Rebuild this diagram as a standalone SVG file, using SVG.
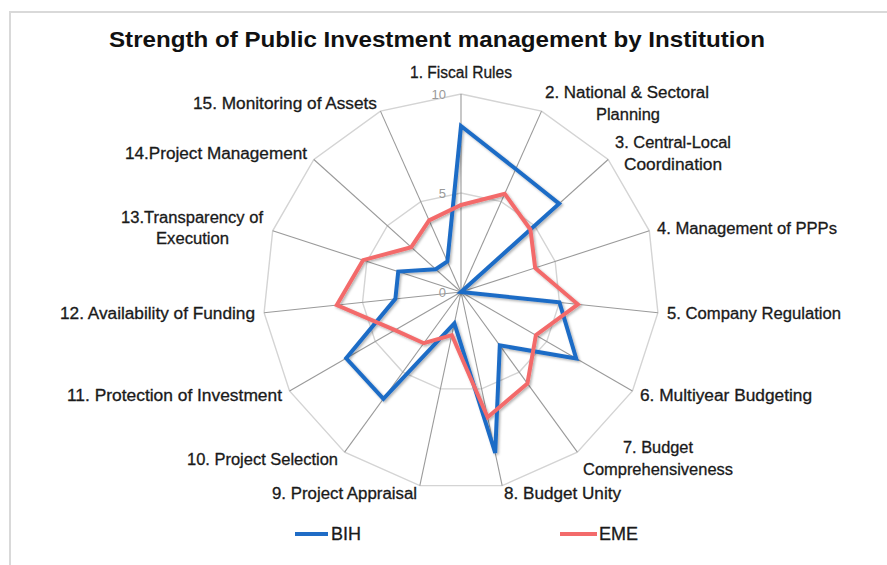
<svg xmlns="http://www.w3.org/2000/svg" width="887" height="565" viewBox="0 0 887 565">
<style>
.bg{fill:#ffffff}
.frame{fill:none;stroke:#d9d9d9;stroke-width:2}
.title{font-family:"Liberation Sans",Arial,sans-serif;font-weight:bold;font-size:22px;fill:#111}
.lbl{font-family:"Liberation Sans",Arial,sans-serif;font-size:16px;fill:#1a1a1a;stroke:#1a1a1a;stroke-width:0.3}
.tick{font-family:"Liberation Sans",Arial,sans-serif;font-size:13px;fill:#9a9a9a}
.leg{font-family:"Liberation Sans",Arial,sans-serif;font-size:18px;fill:#1a1a1a;stroke:#1a1a1a;stroke-width:0.3}
.ring{fill:none;stroke:#d4d4d4;stroke-width:1.4}
.spoke{stroke:#9a9a9a;stroke-width:1.1}
.bih{fill:none;stroke:#1f6cc6;stroke-width:4;stroke-linejoin:miter}
.eme{fill:none;stroke:#f36b6b;stroke-width:4;stroke-linejoin:miter}
</style>
<defs>
<filter id="sh" x="-10%" y="-10%" width="120%" height="120%">
<feDropShadow dx="1.5" dy="1.5" stdDeviation="1.2" flood-color="#000" flood-opacity="0.3"/>
</filter>
</defs>
<rect class="bg" x="0" y="0" width="887" height="565"/>
<rect class="frame" x="10" y="12" width="890" height="570"/>

<text class="title" x="109" y="47" textLength="656" lengthAdjust="spacingAndGlyphs">Strength of Public Investment  management by Institution</text>

<g id="grid">
<polygon class="ring" points="461,94 541.53,111.12 608.14,159.51 649.31,230.81 657.91,312.70 632.47,391 577.38,452.19 502.17,485.67 419.83,485.67 344.62,452.19 289.53,391 264.09,312.70 272.69,230.81 313.86,159.51 380.47,111.12"/>
<polygon class="ring" points="461,193 501.27,201.56 534.57,225.76 555.15,261.41 559.46,302.35 546.74,341.5 519.19,372.09 481.58,388.84 440.42,388.84 402.81,372.09 375.26,341.5 362.54,302.35 366.85,261.41 387.43,225.76 420.73,201.56"/>
<g id="spokes">
<line class="spoke" x1="461" y1="292" x2="461" y2="94"/>
<line class="spoke" x1="461" y1="292" x2="541.53" y2="111.12"/>
<line class="spoke" x1="461" y1="292" x2="608.14" y2="159.51"/>
<line class="spoke" x1="461" y1="292" x2="649.31" y2="230.81"/>
<line class="spoke" x1="461" y1="292" x2="657.91" y2="312.70"/>
<line class="spoke" x1="461" y1="292" x2="632.47" y2="391"/>
<line class="spoke" x1="461" y1="292" x2="577.38" y2="452.19"/>
<line class="spoke" x1="461" y1="292" x2="502.17" y2="485.67"/>
<line class="spoke" x1="461" y1="292" x2="419.83" y2="485.67"/>
<line class="spoke" x1="461" y1="292" x2="344.62" y2="452.19"/>
<line class="spoke" x1="461" y1="292" x2="289.53" y2="391"/>
<line class="spoke" x1="461" y1="292" x2="264.09" y2="312.70"/>
<line class="spoke" x1="461" y1="292" x2="272.69" y2="230.81"/>
<line class="spoke" x1="461" y1="292" x2="313.86" y2="159.51"/>
<line class="spoke" x1="461" y1="292" x2="380.47" y2="111.12"/>
</g>
<text class="tick" x="446" y="99" text-anchor="end">10</text>
<text class="tick" x="446" y="198" text-anchor="end">5</text>
<text class="tick" x="446" y="297" text-anchor="end">0</text>
</g>

<g id="series" filter="url(#sh)">
<polygon id="BIH" class="bih" points="461,126 515.75,169.03 559.09,203.67 461,292 559.46,302.35 576.18,358.5 499.79,345.40 495.22,453 454.35,323.30 383.41,398.79 346.16,358.3 395.36,298.90 398.23,271.60 435.73,269.25 447.37,261.40"/>
<polygon id="EME" class="eme" points="461,205 504.72,193.79 530.41,229.50 535.18,267.90 577.86,304.28 535.91,335.25 527.42,383.42 487.61,417.20 451.85,335.04 423.79,343.21 395.01,330.10 336.78,305.06 363.04,260.17 411.21,247.17 429.11,220.38"/>
</g>

<g id="labels" class="lbl">
<text x="410" y="78" textLength="102" lengthAdjust="spacingAndGlyphs">1. Fiscal Rules</text>
<text x="545" y="98" textLength="164" lengthAdjust="spacingAndGlyphs">2. National &amp; Sectoral</text>
<text x="596" y="120" textLength="64" lengthAdjust="spacingAndGlyphs">Planning</text>
<text x="615" y="148" textLength="116" lengthAdjust="spacingAndGlyphs">3. Central-Local</text>
<text x="624" y="170" textLength="98" lengthAdjust="spacingAndGlyphs">Coordination</text>
<text x="657" y="234" textLength="180" lengthAdjust="spacingAndGlyphs">4. Management of PPPs</text>
<text x="667" y="319" textLength="174" lengthAdjust="spacingAndGlyphs">5. Company Regulation</text>
<text x="640" y="401" textLength="172" lengthAdjust="spacingAndGlyphs">6. Multiyear Budgeting</text>
<text x="623" y="453" textLength="70" lengthAdjust="spacingAndGlyphs">7. Budget</text>
<text x="583" y="475" textLength="150" lengthAdjust="spacingAndGlyphs">Comprehensiveness</text>
<text x="504" y="499" textLength="117" lengthAdjust="spacingAndGlyphs">8. Budget Unity</text>
<text x="272" y="499" textLength="145" lengthAdjust="spacingAndGlyphs">9. Project Appraisal</text>
<text x="187" y="465" textLength="151" lengthAdjust="spacingAndGlyphs">10. Project Selection</text>
<text x="67" y="401" textLength="215" lengthAdjust="spacingAndGlyphs">11. Protection of Investment</text>
<text x="60" y="319" textLength="195" lengthAdjust="spacingAndGlyphs">12. Availability of Funding</text>
<text x="121" y="223" textLength="142" lengthAdjust="spacingAndGlyphs">13.Transparency of</text>
<text x="156" y="244" textLength="73" lengthAdjust="spacingAndGlyphs">Execution</text>
<text x="125" y="159" textLength="182" lengthAdjust="spacingAndGlyphs">14.Project Management</text>
<text x="193" y="109" textLength="184" lengthAdjust="spacingAndGlyphs">15. Monitoring of Assets</text>
</g>

<g id="legend">
<line x1="295" y1="534" x2="328" y2="534" stroke="#1f6cc6" stroke-width="4"/>
<text class="leg" x="331" y="540">BIH</text>
<line x1="560" y1="534" x2="597" y2="534" stroke="#f36b6b" stroke-width="4"/>
<text class="leg" x="599" y="540">EME</text>
</g>
</svg>
